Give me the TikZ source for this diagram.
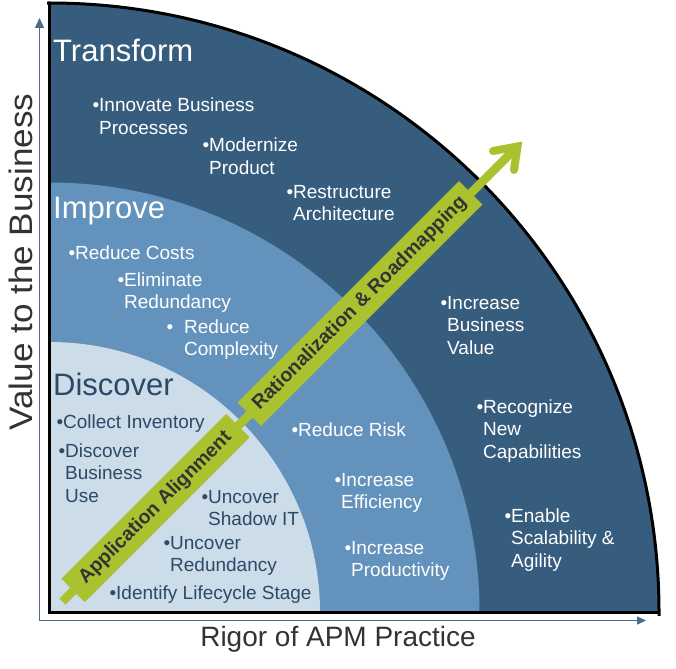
\documentclass[tikz,border=0pt]{standalone}
\usepackage{fontspec}
\usepackage{graphicx}
\setmainfont{Liberation Sans}
\usetikzlibrary{arrows.meta}
\definecolor{outerblue}{HTML}{375D7E}
\definecolor{midblue}{HTML}{6393BD}
\definecolor{innerblue}{HTML}{CCDCE8}
\definecolor{apmgreen}{HTML}{AAC22F}
\definecolor{darktxt}{HTML}{2C4A68}
\definecolor{axiscol}{HTML}{4E6C8A}
\definecolor{labelgray}{HTML}{333333}
\newcommand{\itemtext}[1]{\begin{tabular}[t]{@{}l@{}}#1\end{tabular}}
\newcommand{\bul}{\llap{•}}
\begin{document}
\begin{tikzpicture}[x=1pt,y=-1pt,
  wt/.style={text=white, anchor=base west, inner sep=0pt, font=\fontsize{19}{22.8}\selectfont},
  dt/.style={wt, text=darktxt},
  titletext/.style={anchor=base west, inner sep=0pt, font=\fontsize{31}{36}\selectfont},
  greenbox/.style={fill=apmgreen, rotate=45, minimum height=33pt, inner sep=0pt, text=labelgray, font=\bfseries\fontsize{19.5}{22}\selectfont},
  axislab/.style={text=labelgray, inner sep=0pt, anchor=base},
  axisline/.style={axiscol, line width=1.3pt}
]
\fill[white] (0,0) rectangle (676,668);
\useasboundingbox (0,0) rectangle (676,668);
\coordinate (C) at (49.5,612.5);
% sectors
\begin{scope}
\clip (49.5,-5) rectangle (680,612.5);
\fill[outerblue] (C) circle (609.5pt);
\fill[midblue] (C) circle (430pt);
\fill[innerblue] (C) circle (270.5pt);
\end{scope}
% border
\begin{scope}
\clip (47,-5) rectangle (680,615);
\draw[line width=3pt] (C) circle (609.5pt);
\end{scope}
\coordinate (topc) at (49.5,3);
\coordinate (rightc) at (659,612.5);
\draw[line width=3pt, line join=miter] (topc) -- (C) -- (rightc);
% axes
\coordinate (O) at (39.5,620.5);
\coordinate (ytip) at (39.5,18);
\coordinate (xtip) at (646,620.5);
\draw[axisline, -{Triangle[length=10pt,width=9pt]}] (O) -- (ytip);
\draw[axisline, -{Triangle[length=9pt,width=8pt]}] (O) -- (xtip);
\node[axislab, font=\fontsize{28}{32}\selectfont] (xlab) at (338,646) {Rigor of APM Practice};
\node[axislab, rotate=90, font=\fontsize{32.5}{36}\selectfont] (ylab) at (32.7,262) {\scalebox{1.08}[1]{Value to the Business}};
% green arrow
\coordinate (tail) at (62.5,601.5);
\coordinate (headv) at (517.5,146.5);
\coordinate (armA) at (493,151);
\coordinate (armB) at (514,170);
\draw[apmgreen, line width=8.5pt] (tail) -- (headv);
\draw[apmgreen, line width=8pt, line cap=round, line join=miter] (armA) -- (headv) -- (armB);
\node[greenbox, minimum width=233pt] (aa) at (155.5,508) {Application Alignment};
\node[greenbox, minimum width=313pt] (rr) at (360,303.5) {Rationalization \& Roadmapping};
% titles
\node[titletext, text=white] (transform) at (53,62) {Transform};
\node[titletext, text=white] (improve) at (53,218.5) {Improve};
\node[titletext, text=darktxt] (discover) at (53,395) {Discover};
% transform items
\node[wt] (t1) at (99,112) {\itemtext{\bul Innovate Business\\Processes}};
\node[wt] (t2) at (209,152) {\itemtext{\bul Modernize\\Product}};
\node[wt] (t3) at (293,198) {\itemtext{\bul Restructure\\Architecture}};
\node[wt] (t4) at (447,309) {\itemtext{\bul Increase\\Business\\Value}};
\node[wt] (t5) at (483,413) {\itemtext{\bul Recognize\\New\\Capabilities}};
\node[wt] (t6) at (511,522) {\itemtext{\bul Enable\\Scalability \&\\Agility}};
% improve items
\node[wt] (i1) at (75,259) {\itemtext{\bul Reduce Costs}};
\node[wt] (i2) at (124,286) {\itemtext{\bul Eliminate\\Redundancy}};
\node[wt] (i3) at (184,333) {\itemtext{\llap{•\hspace{11pt}}Reduce\\Complexity}};
\node[wt] (i4) at (298,436) {\itemtext{\bul Reduce Risk}};
\node[wt] (i5) at (341,486) {\itemtext{\bul Increase\\Efficiency}};
\node[wt] (i6) at (351,554) {\itemtext{\bul Increase\\Productivity}};
% discover items
\node[dt] (d1) at (63,428) {\itemtext{\bul Collect Inventory}};
\node[dt] (d2) at (65,457) {\itemtext{\bul Discover\\Business\\Use}};
\node[dt] (d3) at (208,503) {\itemtext{\bul Uncover\\Shadow IT}};
\node[dt] (d4) at (170,549) {\itemtext{\bul Uncover\\Redundancy}};
\node[dt] (d5) at (116,599) {\itemtext{\bul Identify Lifecycle Stage}};
\end{tikzpicture}
\end{document}
